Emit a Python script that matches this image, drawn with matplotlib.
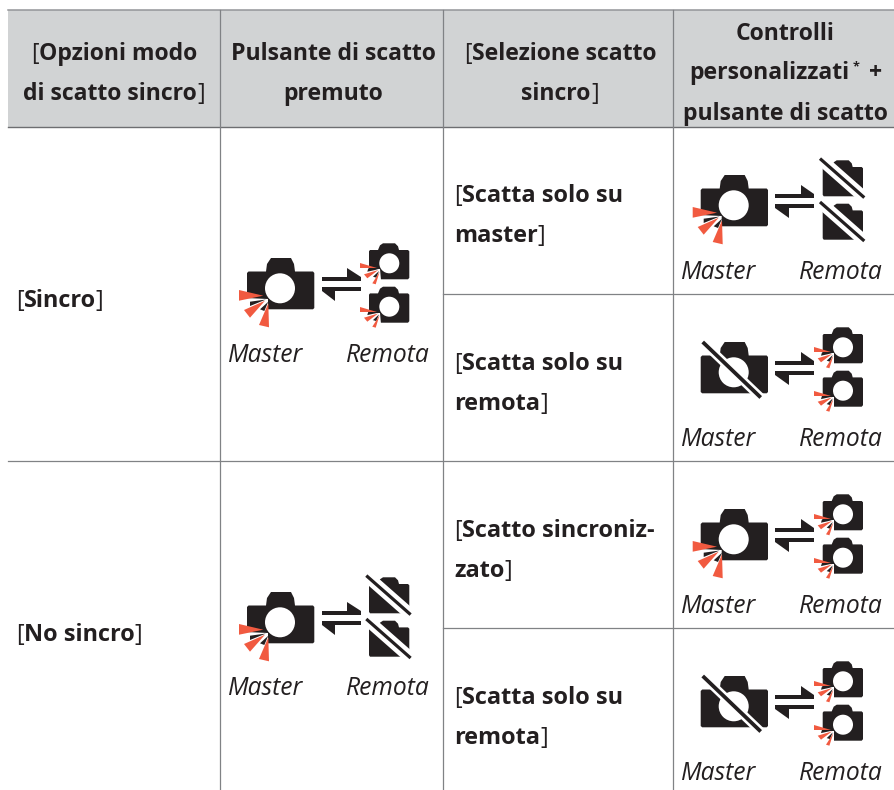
"""
Table of sync release options, drawn in pixel coordinates on one full-figure axes.
"""
import matplotlib
matplotlib.use('Agg')
import matplotlib.pyplot as plt
from matplotlib.patches import Polygon, Circle, Rectangle

W, H = 894, 790
FONT = 'Open Sans'
TXT = '#231f20'
HEAD_BG = '#d1d3d4'
LINE = '#808285'
RED = '#f15a40'
FS_HEAD = 16.6
FS_BODY = 16.9
FS_ITAL = 17.7

# (text, kind) runs per line: 0 regular, 1 bold, 2 small asterisk
head_col1 = [[('[', 0), ('Opzioni modo', 1)], [('di scatto sincro', 1), (']', 0)]]
head_col2 = [[('Pulsante di scatto', 1)], [('premuto', 1)]]
head_col3 = [[('[', 0), ('Selezione scatto', 1)], [('sincro', 1), (']', 0)]]
head_col4 = [[('Controlli', 1)], [('personalizzati', 1), ('*', 2), ('+', 1)], [('pulsante di scatto', 1)]]
opt_labels = [[('[', 0), ('Sincro', 1), (']', 0)], [('[', 0), ('No sincro', 1), (']', 0)]]
sel_labels = [
    [[('[', 0), ('Scatta solo su', 1)], [('master', 1), (']', 0)]],
    [[('[', 0), ('Scatta solo su', 1)], [('remota', 1), (']', 0)]],
    [[('[', 0), ('Scatto sincroniz-', 1)], [('zato', 1), (']', 0)]],
    [[('[', 0), ('Scatta solo su', 1)], [('remota', 1), (']', 0)]],
]
# which camera fires: (master, remote)
col2_state = [(True, True), (True, False)]
col4_state = [(True, False), (False, True), (True, True), (False, True)]
master_label = 'Master'
remote_label = 'Remota'

# icon outlines, px relative to the top-left of the camera
BIG = dict(
    body=[(0, 15), (1.5, 13.5), (19, 13.5), (20, 6), (24, 0), (44, 0), (47, 6), (48, 13.5),
          (66, 13.5), (67.3, 15), (67.3, 50), (66, 51.3), (1.5, 51.3), (0, 50)],
    lens=(33, 30.3, 15),
    cut=[(21, 41), (-1, 40), (-1, 53), (21, 53)],
    slivers=[[(3, 43.7), (3, 48), (19, 41.5)], [(13, 51.3), (17.3, 53), (21.3, 43.7)]],
    wedges=[[(-8, 32), (-8, 42.7), (16.3, 37.7)],
            [(-3, 52), (3, 59.7), (18, 42.7)],
            [(12, 67), (22, 69.3), (21.3, 45.3)]],
    slash=((2, 0), (60, 55.5)), slash_w=(9, 3.8), slash_lens=True,
)
SMALL = dict(
    body=[(0, 8), (1, 6.7), (9, 6.7), (11, 2), (14, 0), (26, 0), (29, 3), (30, 6.7),
          (39, 6.7), (40.3, 8), (40.3, 34.5), (39, 36), (1, 36), (0, 34.5)],
    lens=(20.3, 20, 10),
    cut=[(11, 26), (-1, 26), (-1, 37), (11.5, 37)],
    slivers=[[(-0.7, 25), (-1.7, 28.4), (9.3, 26)], [(4, 33.4), (7.3, 34.4), (10, 27.7)]],
    wedges=[[(-9, 20), (-9, 25), (8, 25)],
            [(-5, 31), (-1.7, 35), (9.3, 26.7)],
            [(3.3, 40), (6.7, 41), (10.7, 28.3)]],
    slash=((-2.7, -1.7), (41.6, 37.3)), slash_w=(12, 3.2), slash_lens=False,
)

fig = plt.figure(figsize=(W / 100, H / 100), dpi=100, facecolor='white')
ax = fig.add_axes([0, 0, 1, 1])
ax.set_xlim(0, W)
ax.set_ylim(H, 0)
ax.axis('off')
rend = fig.canvas.get_renderer()


def make_text(x, y, s, kind, fs):
    kw = dict(family=FONT, color=TXT, va='baseline', ha='left')
    if kind == 0:
        return ax.text(x, y, s, fontsize=fs, fontweight='normal', **kw)
    if kind == 1:
        return ax.text(x, y, s, fontsize=fs, fontweight='bold', **kw)
    # small raised asterisk
    return ax.text(x + 4, y - 9, s, fontsize=fs * 0.55, fontweight='bold', **kw)


def run_width(s, kind, fs):
    t = make_text(0, 0, s, kind, fs)
    w = t.get_window_extent(rend).width
    t.remove()
    return w + (13 if kind == 2 else 0)


def rich(x, y, runs, fs, center=False):
    widths = [run_width(s, k, fs) for s, k in runs]
    if center:
        x = x - sum(widths) / 2
    for (s, k), w in zip(runs, widths):
        make_text(x, y, s, k, fs)
        x += w


def poly(x0, y0, pts, **kw):
    ax.add_patch(Polygon([(x0 + a, y0 + b) for a, b in pts], closed=True, ec='none', **kw))


def camera(x0, y0, shape, fire, slashed):
    poly(x0, y0, shape['body'], fc=TXT, zorder=3)
    cx, cy, r = shape['lens']
    if not slashed or shape['slash_lens']:
        ax.add_patch(Circle((x0 + cx, y0 + cy), r, fc='white', ec='none', zorder=4))
    if fire:
        poly(x0, y0, shape['cut'], fc='white', zorder=4)
        for s in shape['slivers']:
            poly(x0, y0, s, fc=TXT, zorder=5)
        for w in shape['wedges']:
            poly(x0, y0, w, fc=RED, zorder=6)
    if slashed:
        (ax0, ay0), (bx0, by0) = shape['slash']
        white, black = shape['slash_w']
        xs = [x0 + ax0, x0 + bx0]
        ys = [y0 + ay0, y0 + by0]
        ax.plot(xs, ys, color='white', lw=white * 0.72, solid_capstyle='butt', zorder=6)
        ax.plot(xs, ys, color=TXT, lw=black * 0.72, solid_capstyle='butt', zorder=7)


def swap_arrows(x0, y0):
    # x0,y0 = big camera top-left
    ax.add_patch(Rectangle((x0 + 74.7, y0 + 19.3), 39, 3.7, fc=TXT, ec='none', zorder=3))
    ax.add_patch(Rectangle((x0 + 74.7, y0 + 28.7), 39, 3.9, fc=TXT, ec='none', zorder=3))
    poly(x0, y0, [(100, 9.5), (100, 19.3), (113.7, 19.3)], fc=TXT, zorder=3)
    poly(x0, y0, [(74.7, 32.6), (88, 32.6), (88, 42.5)], fc=TXT, zorder=3)


def icon_group(x0, y0, state, lab_master_x, lab_remote_x, lab_y):
    m_on, r_on = state
    camera(x0, y0, BIG, m_on, not m_on)
    swap_arrows(x0, y0)
    camera(x0 + 122, y0 - 14.7, SMALL, r_on, not r_on)
    camera(x0 + 122, y0 + 28.7, SMALL, r_on, not r_on)
    for x, s in ((lab_master_x, master_label), (lab_remote_x, remote_label)):
        ax.text(x, lab_y, s, family=FONT, style='italic', fontsize=FS_ITAL, color=TXT,
                va='baseline', ha='left', zorder=8)


# header band and grid
ax.add_patch(Rectangle((8, 10), W - 8, 117, fc=HEAD_BG, ec='none', zorder=0))
ax.plot([8, W], [10, 10], color='#939598', lw=1.1, zorder=1)
ax.plot([8, W], [127, 127], color='#6d6e71', lw=1.0, zorder=1)
for x in (220.3, 443.2, 673.3):
    ax.plot([x, x], [10, H], color=LINE, lw=0.9, zorder=1)
ax.plot([8, W], [461, 461], color=LINE, lw=0.9, zorder=1)
for y in (294, 628):
    ax.plot([443.2, W], [y, y], color=LINE, lw=0.9, zorder=1)

# header text
for x, lines, ys in ((114, head_col1, (60, 100)), (333, head_col2, (60, 100)),
                     (560, head_col3, (60, 100)), (785.5, head_col4, (40, 79, 120))):
    for runs, y in zip(lines, ys):
        rich(x, y, runs, FS_HEAD, center=True)

# first column and third column
for runs, y in zip(opt_labels, (307, 641)):
    rich(16, y, runs, FS_BODY)
for lines, y in zip(sel_labels, (202, 370, 537, 704)):
    rich(454, y, lines[0], FS_BODY)
    rich(454, y + 40, lines[1], FS_BODY)

# icons
for st, y0, lab_y in zip(col2_state, (258, 592), (362, 695)):
    icon_group(247, y0, st, 228, 346, lab_y)
for st, y0, lab_y in zip(col4_state, (175, 342, 509, 676), (279, 446, 613, 780)):
    icon_group(700.7, y0, st, 681, 799, lab_y)

fig.savefig('out.png', dpi=100, facecolor='white')
